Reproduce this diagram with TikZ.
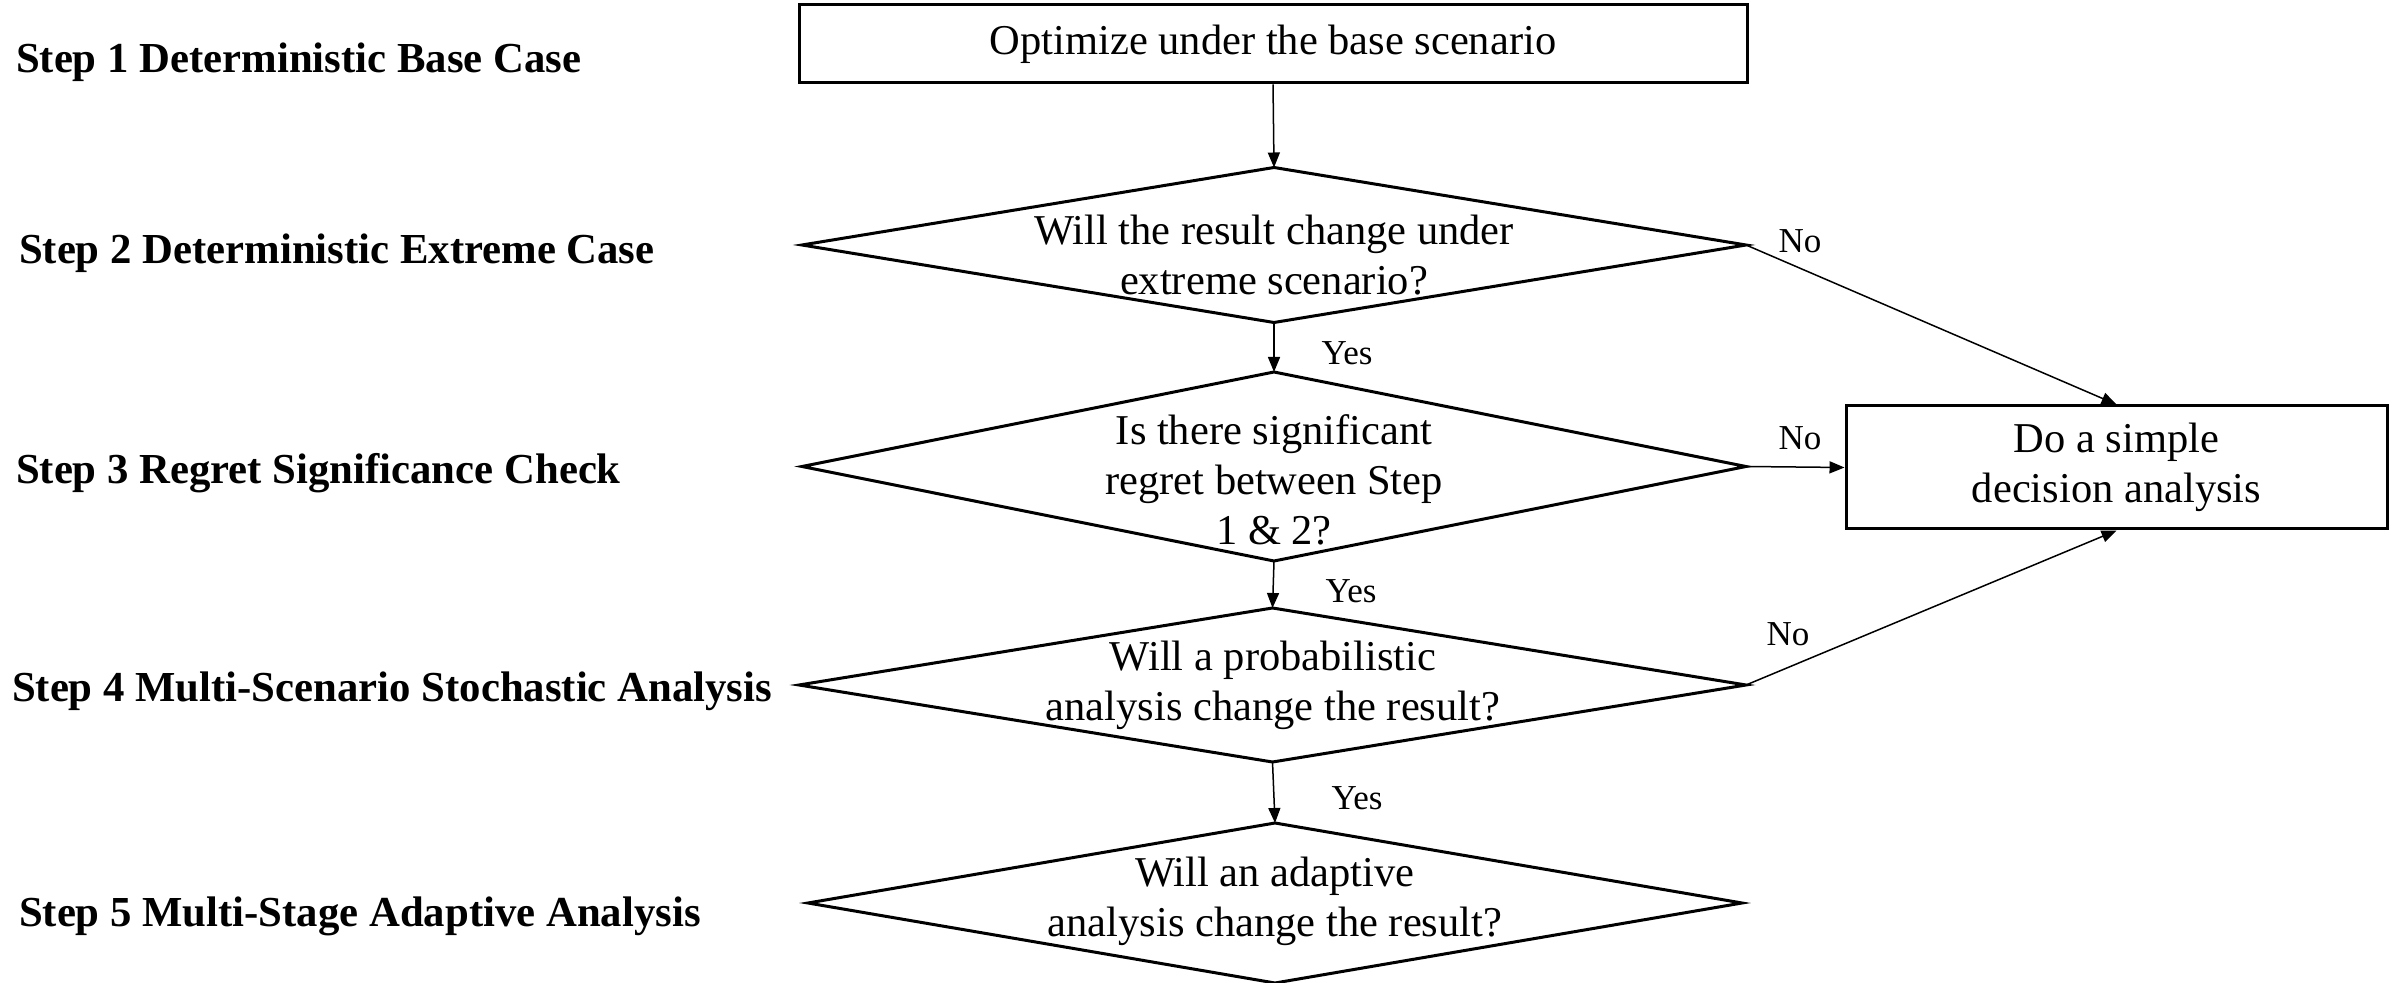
\documentclass[tikz,border=0pt]{standalone}
\usepackage{fontspec}
\setmainfont{Liberation Serif}
\usetikzlibrary{arrows.meta}
\begin{document}
\begin{tikzpicture}[x=0.2pt,y=-0.2pt,
  box/.style={draw,line width=0.6pt,inner sep=0pt,align=center,font=\fontsize{8.5}{10}\selectfont},
  dframe/.style={inner sep=0pt,outer sep=0pt},
  qtext/.style={align=center,inner sep=0pt,font=\fontsize{8.5}{10}\selectfont},
  steplabel/.style={anchor=base west,inner sep=0pt,font=\fontsize{8.55}{10}\selectfont\bfseries},
  yn/.style={inner sep=0pt,font=\fontsize{7}{8}\selectfont},
  flow/.style={line width=0.3pt,-{Triangle[length=3pt,width=2.4pt]}},
  dline/.style={line width=0.6pt,line join=miter}]
\useasboundingbox (0,0) rectangle (2394,983);

% step labels
\node[steplabel] (s1) at (15,73) {Step 1 Deterministic Base Case};
\node[steplabel] (s2) at (18,264) {Step 2 Deterministic Extreme Case};
\node[steplabel] (s3) at (15,484) {Step 3 Regret Significance Check};
\node[steplabel] (s4) at (11,702) {Step 4 Multi-Scenario Stochastic Analysis};
\node[steplabel] (s5) at (18,926) {Step 5 Multi-Stage Adaptive Analysis};

% boxes
\node[box,minimum width=189.6pt,minimum height=15.6pt] (b1) at (1273,44) {Optimize under the base scenario};
\node[box,minimum width=108.2pt,minimum height=24.6pt] (b2) at (2116.5,467.5) {Do a simple\\decision analysis};

% diamonds
\node[dframe,minimum width=188.8pt,minimum height=31pt] (d1) at (1274,245) {};
\node[dframe,minimum width=188.8pt,minimum height=37.8pt] (d2) at (1274,466.5) {};
\node[dframe,minimum width=189.4pt,minimum height=30.8pt] (d3) at (1272.5,685) {};
\node[dframe,minimum width=186.8pt,minimum height=32pt] (d4) at (1275,903) {};
\foreach \d in {d1,d2,d3,d4}
  \draw[dline] (\d.north) -- (\d.east) -- (\d.south) -- (\d.west) -- cycle;

\node[qtext] (t1) at (1274,255) {Will the result change under\\extreme scenario?};
\node[qtext] (t2) at (1274,480) {Is there significant\\regret between Step\\1 \& 2?};
\node[qtext] (t3) at (1273,685) {Will a probabilistic\\analysis change the result?};
\node[qtext] (t4) at (1275,901) {Will an adaptive\\analysis change the result?};

% connectors
\draw[flow] (b1.south) -- (d1.north);
\draw[flow] (d1.south) -- (d2.north);
\draw[flow] (d2.south) -- (d3.north);
\draw[flow] (d3.south) -- (d4.north);
\draw[flow] (d1.east) -- (b2.north);
\draw[flow] (d2.east) -- (b2.west);
\draw[flow] (d3.east) -- (b2.south);

% labels
\node[yn] (y1) at (1347,353) {Yes};
\node[yn] (y2) at (1351,591) {Yes};
\node[yn] (y3) at (1357,798) {Yes};
\node[yn] (n1) at (1800,241) {No};
\node[yn] (n2) at (1800,438) {No};
\node[yn] (n3) at (1788,634) {No};
\end{tikzpicture}
\end{document}
